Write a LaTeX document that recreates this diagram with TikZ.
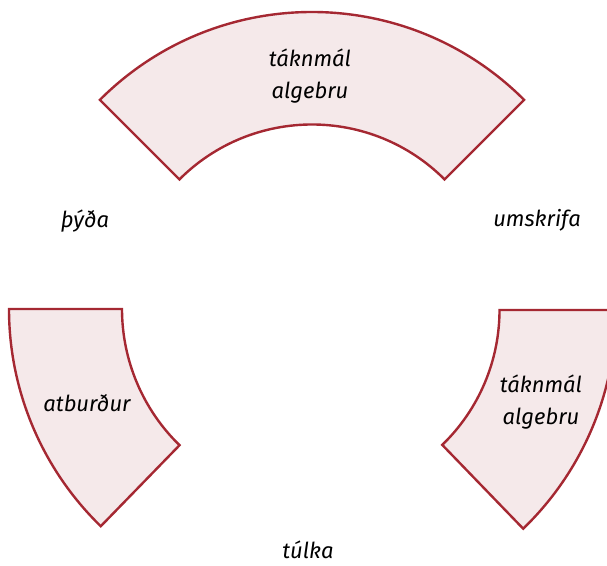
\documentclass[tikz,border=0pt]{standalone}
\usepackage{fontspec}
\newfontfamily\labfont{Fira Sans}
\definecolor{edge}{RGB}{165,40,50}
\definecolor{pinkfill}{RGB}{245,233,234}
\begin{document}
\begin{tikzpicture}[x=1pt,y=1pt,
  sector/.style={draw=edge,fill=pinkfill,line width=2.4pt,line join=miter},
  lbl/.style={font=\labfont\itshape\fontsize{22}{32}\selectfont,align=center,inner sep=0pt,text=black}]
\useasboundingbox (0,0) rectangle (607,565);
\coordinate (ct) at (312,253);
\coordinate (cl) at (312,256);
\coordinate (cr) at (312,255);
% top sector
\draw[sector] ([shift={(135:300pt)}]ct) arc[start angle=135,end angle=45,radius=300pt]
  -- ([shift={(45:187.5pt)}]ct) arc[start angle=45,end angle=135,radius=187.5pt] -- cycle;
% left sector
\draw[sector] ([shift={(180:303pt)}]cl) arc[start angle=180,end angle=225.8,radius=303pt]
  -- ([shift={(225.8:190pt)}]cl) arc[start angle=225.8,end angle=180,radius=190pt] -- cycle;
% right sector
\draw[sector] ([shift={(0:304pt)}]cr) arc[start angle=360,end angle=314,radius=304pt]
  -- ([shift={(314:187.5pt)}]cr) arc[start angle=314,end angle=360,radius=187.5pt] -- cycle;
\node[lbl] (top) at (310,489) {táknmál\\algebru};
\node[lbl] (left) at (87,162) {atburður};
\node[lbl] (right) at (541,163) {táknmál\\algebru};
\node[lbl] (thyda) at (85,344) {þýða};
\node[lbl] (umskrifa) at (537,345) {umskrifa};
\node[lbl] (tulka) at (308,15) {túlka};
\end{tikzpicture}
\end{document}
